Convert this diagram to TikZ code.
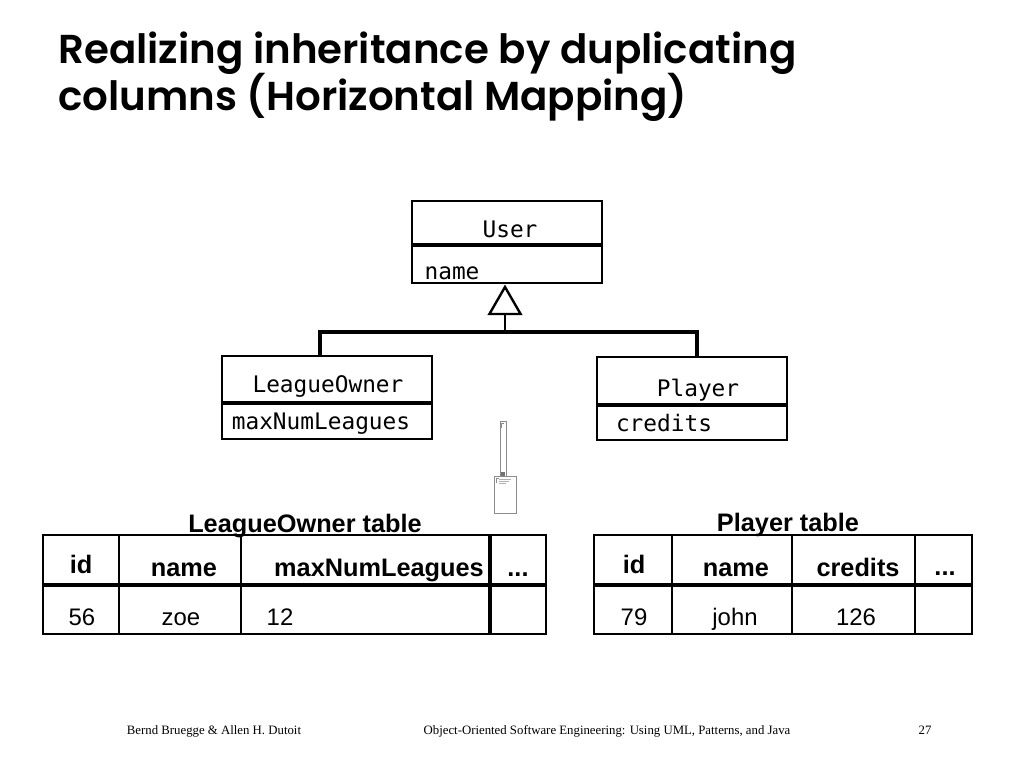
\documentclass[tikz,border=0pt]{standalone}
\usepackage{fontspec}
\setmainfont{Liberation Sans}
\newfontfamily\titlefont{Poppins SemiBold}
\newfontfamily\umlfont{DejaVu Sans Mono}
\newfontfamily\footfont{Liberation Serif}
\usetikzlibrary{shapes.geometric}

\tikzset{
  classbox/.style={draw, line width=2.8*0.7113pt, outer sep=0pt, inner sep=0pt, minimum width=190*0.7113pt},
  umltext/.style={anchor=base, inner sep=0pt, font=\umlfont\fontsize{16.2}{16.2}\selectfont},
  headtext/.style={anchor=base, inner sep=0pt, font=\bfseries\fontsize{18}{18}\selectfont},
  celltext/.style={anchor=base, inner sep=0pt, font=\fontsize{17}{17}\selectfont},
  foottext/.style={anchor=base, inner sep=0pt, font=\footfont\fontsize{9.1}{9.1}\selectfont},
  titletext/.style={anchor=base west, inner sep=0pt, font=\titlefont\fontsize{28.7}{28.7}\selectfont},
  thickline/.style={line width=3.2*0.7113pt},
  tableline/.style={line width=2.8*0.7113pt},
  tablerule/.style={line width=3.8*0.7113pt},
  iconline/.style={black!45, line width=0.6pt}
}

\begin{document}
\begin{tikzpicture}[x=0.025cm, y=-0.025cm]
    \useasboundingbox (0, 0) rectangle (1024, 768);

    % Title
    \node[titletext] (title1) at (58, 64) {Realizing inheritance by duplicating};
    \node[titletext] (title2) at (58, 111) {columns (Horizontal Mapping)};

    % User
    \node[classbox, minimum height=82*0.7113pt] (user) at (507, 242) {};
    \draw[thickline] (user.west |- 0, 245) -- (user.east |- 0, 245);
    \node[umltext] (usertext) at (510, 237) {User};
    \node[umltext] (usernametext) at (452, 279) {name};

    % LeagueOwner
    \node[classbox, minimum width=210*0.7113pt, minimum height=83*0.7113pt] (owner) at (327, 397.5) {};
    \draw[thickline] (owner.west |- 0, 403) -- (owner.east |- 0, 403);
    \node[umltext] (ownertext) at (328, 392) {LeagueOwner};
    \node[umltext] (ownerattr) at (321, 429) {maxNumLeagues};

    % Player
    \node[classbox, minimum height=83*0.7113pt] (player) at (692, 398.5) {};
    \draw[thickline] (player.west |- 0, 405) -- (player.east |- 0, 405);
    \node[umltext] (playertext) at (698, 396) {Player};
    \node[umltext] (playerattr) at (664, 431) {credits};

    % Inheritance
    \node[draw, regular polygon, regular polygon sides=3, line width=2.4*0.7113pt, inner sep=0pt, outer sep=0pt, minimum size=36*0.7113pt] (triangle) at (505, 305) {};
    \coordinate (barmid) at (505, 332);
    \coordinate (barleft) at (320, 332);
    \coordinate (barright) at (697, 332);
    \draw[line width=2.2*0.7113pt] (triangle.side 2) -- (barmid);
    \draw[thickline, line cap=rect] (barleft) -- (barright);
    \draw[thickline] (barleft) -- (barleft |- owner.north);
    \draw[thickline] (barright) -- (barright |- player.north);

    % Stray icon
    \draw[iconline] (500, 421) rectangle (506, 476);
    \draw[iconline] (494, 476) rectangle (516, 513);
    \fill[black!55] (501, 472) rectangle (505, 476);
    \draw[iconline] (501.5, 423) -- (504, 423) (501.5, 423) -- (501.5, 428);
    \draw[iconline] (496, 478) -- (499, 478) (496, 478) -- (496, 483);
    \draw[black!30, line width=0.4pt] (499, 479) -- (511, 479) (499, 481) -- (509, 481) (499, 483) -- (506, 483);

    % LeagueOwner table
    \draw[tableline] (43, 535) rectangle (546, 634);
    \draw[tablerule] (43, 585) -- (546, 585);
    \draw[tableline] (119, 535) -- (119, 634);
    \draw[tableline] (241, 535) -- (241, 634);
    \draw[tablerule] (490, 535) -- (490, 634);
    \node[headtext] (ownertitle) at (305, 532) {LeagueOwner table};
    \node[headtext] (ownerid) at (81, 573) {id};
    \node[headtext] (ownername) at (184, 576) {name};
    \node[headtext] (ownermax) at (379, 576) {maxNumLeagues};
    \node[headtext] (ownerdots) at (518, 576) {...};
    \node[celltext] (ownerval1) at (82, 625) {56};
    \node[celltext] (ownerval2) at (181, 625) {zoe};
    \node[celltext] (ownerval3) at (280, 625) {12};

    % Player table
    \draw[tableline] (594, 535) rectangle (972, 634);
    \draw[tablerule] (594, 585) -- (972, 585);
    \draw[tableline] (672, 535) -- (672, 634);
    \draw[tableline] (792, 535) -- (792, 634);
    \draw[tableline] (915, 535) -- (915, 634);
    \node[headtext] (playertitle) at (788, 531) {Player table};
    \node[headtext] (playerid) at (634, 573) {id};
    \node[headtext] (playername) at (736, 576) {name};
    \node[headtext] (playercredits) at (858, 576) {credits};
    \node[headtext] (playerdots) at (945, 575) {...};
    \node[celltext] (playerval1) at (634, 625) {79};
    \node[celltext] (playerval2) at (735, 625) {john};
    \node[celltext] (playerval3) at (856, 625) {126};

    % Footer
    \node[foottext] (footleft) at (214, 734) {Bernd Bruegge \& Allen H. Dutoit};
    \node[foottext] (footmid) at (607, 734) {Object-Oriented Software Engineering: Using UML, Patterns, and Java};
    \node[foottext] (footright) at (925, 734) {27};
\end{tikzpicture}
\end{document}
